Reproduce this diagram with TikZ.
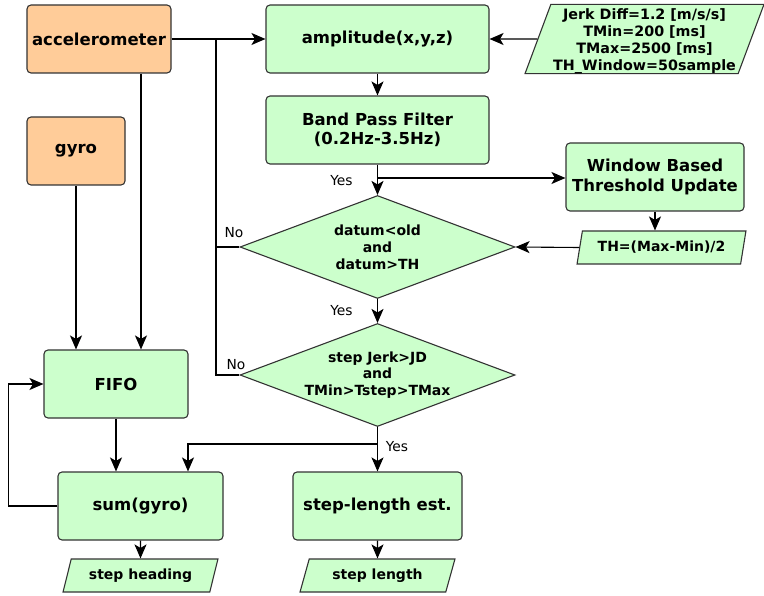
\documentclass[tikz,border=0pt]{standalone}
\usepackage{fontspec}
\setmainfont{DejaVu Sans}
\usetikzlibrary{arrows.meta,shapes.geometric}

\definecolor{sensorfill}{HTML}{FFCC99}
\definecolor{stepfill}{HTML}{CCFFCC}
\definecolor{edgegray}{HTML}{333333}

\newcommand\lblbig{\fontsize{16.5}{19.3}\selectfont\bfseries}
\newcommand\lblmid{\fontsize{14}{16.8}\selectfont\bfseries}
\newcommand\lblparam{\fontsize{14.3}{17.3}\selectfont\bfseries}
\newcommand\lblnote{\fontsize{13.8}{16}\selectfont}

\begin{document}
\begin{tikzpicture}[x=1pt,y=-1pt,
  box/.style={draw=edgegray, line width=1.1pt, rounded corners=4pt,
    align=center, inner sep=0pt, font=\lblbig,
    minimum height=68pt},
  sensor/.style={box, fill=sensorfill},
  proc/.style={box, fill=stepfill},
  io/.style={trapezium, trapezium stretches=true,
    trapezium left angle=66, trapezium right angle=114,
    draw=edgegray, line width=1.1pt, fill=stepfill,
    align=center, inner sep=0pt, font=\lblmid},
  decision/.style={diamond, draw=edgegray, line width=1.1pt, fill=stepfill,
    align=center, inner sep=-2pt, aspect=2.67,
    minimum width=275pt, minimum height=103pt, font=\lblmid},
  link/.style={draw=black, line width=1.1pt},
  arr/.style={link, -{Stealth[length=14pt,width=12pt,inset=3.5pt]}},
  note/.style={font=\lblnote, inner sep=0pt}
]
\useasboundingbox (0,0) rectangle (764,596);

% sensors
\node[sensor, minimum width=144pt] (acc) at (99,39) {accelerometer};
\node[sensor, minimum width=98pt] (gyro) at (76,151) {gyro};

% step detection chain
\node[proc, minimum width=223pt] (amp) at (377.5,39) {amplitude(x,y,z)};
\node[io, minimum width=239pt, minimum height=68pt, font=\lblparam,
      trapezium left angle=70, trapezium right angle=110] (param) at (644.5,39)
  {\raisebox{-2.5pt}[\height][\depth]{\begin{tabular}{@{}c@{}}Jerk Diff=1.2 [m/s/s]\\TMin=200 [ms]\\TMax=2500 [ms]\\TH\_Window=50sample\end{tabular}}};
\node[proc, minimum width=223pt] (bpf) at (377.5,130) {Band Pass Filter\\(0.2Hz-3.5Hz)};
\node[proc, minimum width=178pt] (win) at (655,177) {Window Based\\Threshold Update};
\node[io, minimum width=169pt, minimum height=33pt,
      trapezium left angle=71, trapezium right angle=109] (th) at (661.5,247.5) {TH=(Max-Min)/2};
\node[decision] (peak) at (377.5,247) {datum<old\\and\\datum>TH};
\node[decision] (jerk) at (377.5,375) {step Jerk>JD\\and\\TMin>Tstep>TMax};

% heading and length estimation
\node[proc, minimum width=144pt] (fifo) at (116,384) {FIFO};
\node[proc, minimum width=165pt] (sum) at (140.5,506) {sum(gyro)};
\node[proc, minimum width=169pt] (slen) at (377.5,506) {step-length est.};
\node[io, minimum width=155pt, minimum height=33pt] (head) at (140.5,575.5) {step heading};
\node[io, minimum width=155pt, minimum height=33pt] (len) at (377.5,575.5) {step length};

% branch points
\coordinate (accsplit) at (216,39);
\coordinate (bpfsplit) at (377.5,178);
\coordinate (jerksplit) at (377.5,444);

% connectors
\draw[arr] (acc.east) -- (amp.west);
\draw[link] (accsplit) -- (accsplit |- jerk.west) -- (jerk.west);
\draw[link] (peak.west) -- (peak.west -| accsplit);
\draw[arr] ([xshift=42pt]acc.south) -- ([xshift=42pt]acc.south |- fifo.north);
\draw[arr] (gyro.south) -- (gyro.south |- fifo.north);
\draw[arr] (param.west) -- (amp.east);
\draw[arr] (amp.south) -- (bpf.north);
\draw[arr] (bpf.south) -- (peak.north);
\draw[arr] (bpfsplit) -- (bpfsplit -| win.west);
\draw[arr] (win.south) -- (win.south |- th.north);
\draw[arr] (th.west) -- (peak.east);
\draw[arr] (peak.south) -- (jerk.north);
\draw[arr] (jerk.south) -- (slen.north);
\draw[arr] (jerksplit) -| ([xshift=47.5pt]sum.north);
\draw[arr] (fifo.south) -- (fifo.south |- sum.north);
\draw[arr] (sum.west) -- ++(-49,0) |- (fifo.west);
\draw[arr] (sum.south) -- (head.north);
\draw[arr] (slen.south) -- (len.north);

% branch labels
\node[note] (yes1) at (341.5,181) {Yes};
\node[note] (yes2) at (341.5,311) {Yes};
\node[note] (yes3) at (397,447) {Yes};
\node[note] (no1) at (234,233) {No};
\node[note] (no2) at (236,365) {No};
\end{tikzpicture}
\end{document}
